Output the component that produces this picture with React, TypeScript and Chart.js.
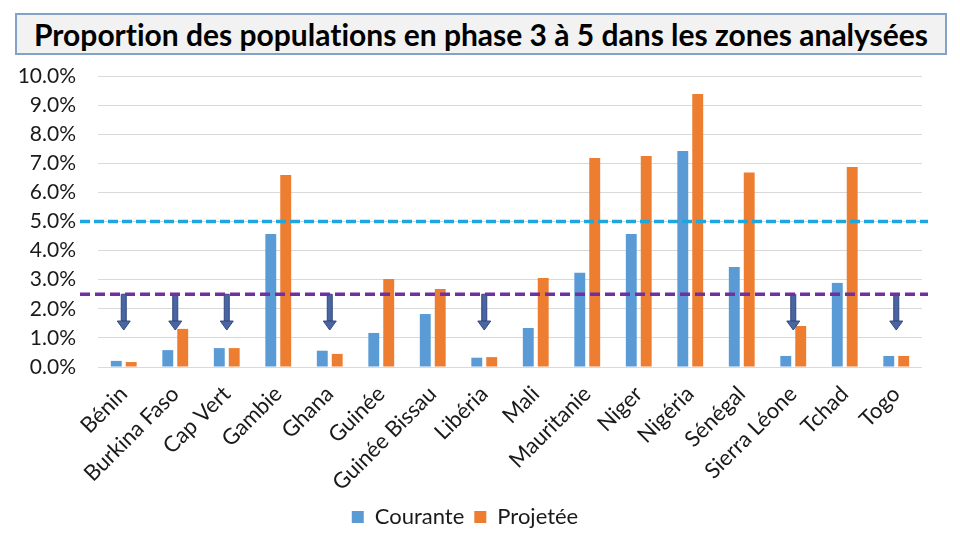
import React, { useEffect, useRef } from "react";
import { Chart, registerables } from "chart.js";

Chart.register(...registerables);

const categories = [
  "Bénin",
  "Burkina Faso",
  "Cap Vert",
  "Gambie",
  "Ghana",
  "Guinée",
  "Guinée Bissau",
  "Libéria",
  "Mali",
  "Mauritanie",
  "Niger",
  "Nigéria",
  "Sénégal",
  "Sierra Léone",
  "Tchad",
  "Togo",
];

const courante = [0.21, 0.58, 0.65, 4.57, 0.56, 1.17, 1.82, 0.32, 1.34, 3.24, 4.57, 7.42, 3.44, 0.38, 2.89, 0.38];
const projetee = [0.17, 1.31, 0.65, 6.6, 0.45, 3.02, 2.68, 0.34, 3.06, 7.18, 7.25, 9.38, 6.68, 1.41, 6.87, 0.38];

const seuilHaut = 5.0;
const seuilBas = 2.5;
const arrowCategories = ["Bénin", "Burkina Faso", "Cap Vert", "Ghana", "Libéria", "Sierra Léone", "Togo"];
const arrowTip = 1.27;

const yTicks = [0, 1, 2, 3, 4, 5, 6, 7, 8, 9, 10];

const FONT = "Lato, 'Open Sans', sans-serif";

const overlayPlugin = {
  id: "overlay",
  afterDatasetsDraw(chart: any) {
    const { ctx, chartArea, scales } = chart;
    const x = scales.x;
    const y = scales.y;
    ctx.save();
    const yTop = y.getPixelForValue(seuilBas);
    const yEnd = y.getPixelForValue(arrowTip);
    arrowCategories.forEach((c) => {
      const idx = categories.indexOf(c);
      const cx = x.getPixelForValue(idx);
      const headH = 9;
      ctx.fillStyle = "#4A65A3";
      ctx.strokeStyle = "#34497C";
      ctx.lineWidth = 1;
      ctx.beginPath();
      ctx.rect(cx - 2.5, yTop, 5, yEnd - headH - yTop);
      ctx.fill();
      ctx.stroke();
      ctx.beginPath();
      ctx.moveTo(cx - 6.5, yEnd - headH);
      ctx.lineTo(cx + 6.5, yEnd - headH);
      ctx.lineTo(cx, yEnd);
      ctx.closePath();
      ctx.fill();
      ctx.stroke();
    });
    const lines = [
      { v: seuilHaut, color: "#1FA6DC", dash: [10, 4] },
      { v: seuilBas, color: "#7030A0", dash: [10, 5] },
    ];
    lines.forEach((l) => {
      const py = y.getPixelForValue(l.v);
      ctx.strokeStyle = l.color;
      ctx.lineWidth = 3.5;
      ctx.setLineDash(l.dash);
      ctx.beginPath();
      ctx.moveTo(chartArea.left - 18, py);
      ctx.lineTo(chartArea.right + 6, py);
      ctx.stroke();
    });
    ctx.restore();
  },
};

export default function App() {
  const canvasRef = useRef<HTMLCanvasElement | null>(null);

  useEffect(() => {
    if (!canvasRef.current) return;
    const chart = new Chart(canvasRef.current, {
      type: "bar",
      data: {
        labels: categories,
        datasets: [
          {
            label: "Courante",
            data: courante,
            backgroundColor: "#5B9BD5",
            borderWidth: 0,
            categoryPercentage: 0.58,
            barPercentage: 0.73,
          },
          {
            label: "Projetée",
            data: projetee,
            backgroundColor: "#ED7D31",
            borderWidth: 0,
            categoryPercentage: 0.58,
            barPercentage: 0.73,
          },
        ],
      },
      options: {
        animation: false,
        responsive: false,
        maintainAspectRatio: false,
        layout: { padding: { top: 68, right: 30, left: 0, bottom: 0 } },
        plugins: {
          title: { display: false },
          tooltip: { enabled: false },
          legend: {
            position: "bottom",
            labels: {
              boxWidth: 12,
              boxHeight: 12,
              padding: 10,
              color: "#1a1a1a",
              font: { family: FONT, size: 22 },
            },
          },
        },
        scales: {
          x: {
            grid: { display: false },
            border: { display: false },
            ticks: {
              autoSkip: false,
              maxRotation: 45,
              minRotation: 45,
              color: "#1a1a1a",
              padding: 6,
              font: { family: FONT, size: 22 },
            },
            afterFit(scale: any) {
              scale.height = 129;
            },
          },
          y: {
            min: 0,
            max: 10,
            afterBuildTicks(scale: any) {
              scale.ticks = yTicks.map((v) => ({ value: v }));
            },
            grid: { color: "#D9D9D9", lineWidth: 1, drawTicks: false },
            border: { display: false },
            ticks: {
              color: "#1a1a1a",
              padding: 22,
              font: { family: FONT, size: 21 },
              callback: (v: any) => `${Number(v).toFixed(1)}%`,
            },
            afterFit(scale: any) {
              scale.width = 90;
            },
          },
        },
      },
      plugins: [overlayPlugin],
    });
    return () => chart.destroy();
  }, []);

  return (
    <div style={{ position: "relative", width: 944, height: 524, overflow: "hidden" }}>
      <canvas ref={canvasRef} width={944} height={530} style={{ display: "block", width: 944, height: 530 }} />
      <div
        style={{
          position: "absolute",
          left: 7,
          top: 5,
          width: 932,
          height: 42,
          boxSizing: "border-box",
          border: "2px solid #84A2C6",
          background: "#F2F2F2",
          display: "flex",
          alignItems: "center",
          justifyContent: "center",
          fontFamily: FONT,
          fontWeight: 700,
          fontSize: 30,
          fontVariantLigatures: "none",
          color: "#000",
          whiteSpace: "nowrap",
        }}
      >
        Proportion des populations en phase 3 à 5 dans les zones analysées
      </div>
    </div>
  );
}
